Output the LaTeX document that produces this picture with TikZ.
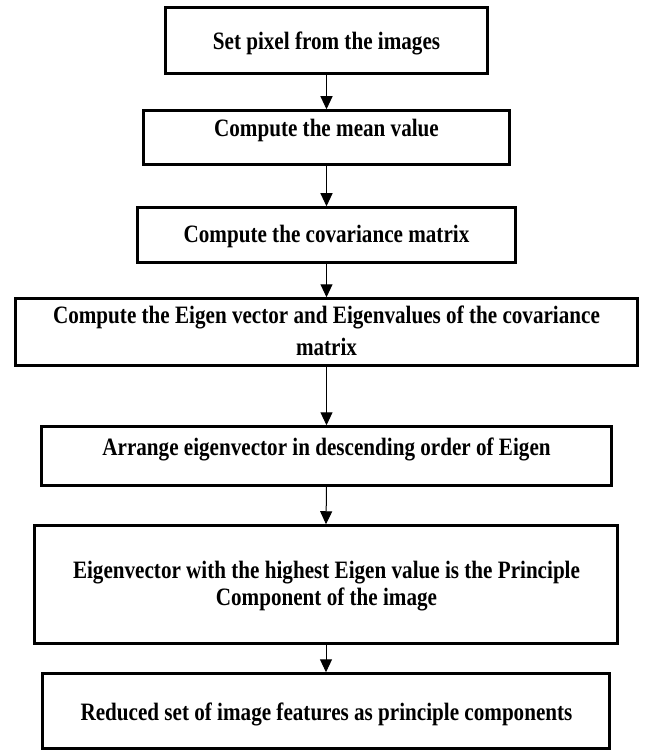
\documentclass[tikz,border=0pt]{standalone}
\usepackage{fontspec}
\setmainfont{Liberation Serif}
\newfontfamily\boxfont{Liberation Serif}[FakeStretch=0.845]
\usetikzlibrary{arrows.meta}
\begin{document}
\begin{tikzpicture}[x=1pt,y=-1pt,
  stepbox/.style={draw=black, line width=2.5pt, inner sep=0pt, fill=white},
  txt/.style={inner sep=0pt, anchor=base, font=\boxfont\bfseries\fontsize{25}{29}\selectfont},
  conn/.style={draw=black, line width=1pt, -{Triangle[width=12pt,length=13pt]}}]
\useasboundingbox (0,0) rectangle (645,751);
\node[stepbox, minimum width=322pt, minimum height=66pt] (b1) at (326.5,40.5) {};
\node[stepbox, minimum width=366pt, minimum height=54pt] (b2) at (326.5,137.5) {};
\node[stepbox, minimum width=378pt, minimum height=55pt] (b3) at (326.5,235) {};
\node[stepbox, minimum width=622pt, minimum height=67pt] (b4) at (326.5,332) {};
\node[stepbox, minimum width=570pt, minimum height=59pt] (b5) at (326.5,456) {};
\node[stepbox, minimum width=583pt, minimum height=118pt] (b6) at (326,584.5) {};
\node[stepbox, minimum width=567pt, minimum height=75pt] (b7) at (326,711) {};
\node[txt] (t1) at (326.5,50) {Set pixel from the images};
\node[txt] (t2) at (326.5,137) {Compute the mean value};
\node[txt] (t3) at (326.5,242.5) {Compute the covariance matrix};
\node[txt] (t4a) at (326.5,323.5) {Compute the Eigen vector and Eigenvalues of the covariance};
\node[txt] (t4b) at (326.5,355) {matrix};
\node[txt] (t5) at (326.5,455) {Arrange eigenvector in descending order of Eigen};
\node[txt] (t6a) at (326.5,578) {Eigenvector with the highest Eigen value is the Principle};
\node[txt] (t6b) at (326.5,605) {Component of the image};
\node[txt] (t7) at (326.5,720) {Reduced set of image features as principle components};
\draw[conn] (b1.south) -- (b2.north);
\draw[conn] (b2.south) -- (b3.north);
\draw[conn] (b3.south) -- (b4.north);
\draw[conn] (b4.south) -- (b5.north);
\draw[conn] (b5.south) -- (b6.north);
\draw[conn] (b6.south) -- (b7.north);
\end{tikzpicture}
\end{document}
